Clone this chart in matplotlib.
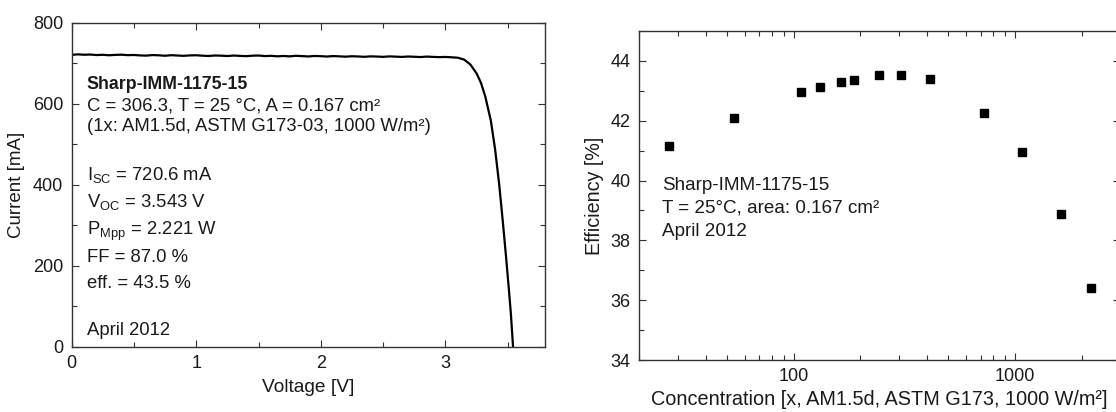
import matplotlib
matplotlib.use("Agg")
import matplotlib.pyplot as plt
from matplotlib.ticker import MultipleLocator, FixedLocator, NullFormatter, FixedFormatter

plt.rcParams['font.family'] = ['Liberation Sans', 'DejaVu Sans']
plt.rcParams['mathtext.fontset'] = 'custom'
plt.rcParams['mathtext.rm'] = 'Liberation Sans'
plt.rcParams['mathtext.it'] = 'Liberation Sans'

# -------- DATA --------
# I-V curve (left panel)
voltage = [0.00, 0.05, 0.10, 0.15, 0.20, 0.25, 0.30, 0.35, 0.40, 0.45,
           0.50, 0.55, 0.60, 0.65, 0.70, 0.75, 0.80, 0.85, 0.90, 0.95,
           1.00, 1.05, 1.10, 1.15, 1.20, 1.25, 1.30, 1.35, 1.40, 1.45,
           1.50, 1.55, 1.60, 1.65, 1.70, 1.75, 1.80, 1.85, 1.90, 1.95,
           2.00, 2.05, 2.10, 2.15, 2.20, 2.25, 2.30, 2.35, 2.40, 2.45,
           2.50, 2.55, 2.60, 2.65, 2.70, 2.75, 2.80, 2.85, 2.90, 2.95,
           3.00, 3.05, 3.10, 3.15, 3.20, 3.25, 3.285, 3.32, 3.365, 3.40,
           3.432, 3.46, 3.486, 3.51, 3.526, 3.543]
current = [720.6, 721.8, 720.9, 721.4, 720.1, 720.8, 719.6, 720.5, 721.0, 719.9,
           720.3, 719.2, 718.7, 720.1, 719.5, 718.4, 719.8, 718.9, 718.2, 719.3,
           719.6, 718.5, 717.9, 719.0, 718.6, 717.7, 718.9, 718.1, 717.4, 718.5,
           719.0, 717.6, 718.2, 717.0, 717.8, 716.9, 718.3, 717.5, 716.7, 717.9,
           717.3, 716.5, 717.6, 716.9, 716.1, 717.2, 716.6, 715.8, 716.9, 716.4,
           715.7, 716.8, 716.2, 715.5, 716.5, 715.9, 715.2, 716.3, 715.6, 715.0,
           715.4, 714.6, 713.5, 709.0, 697.0, 675.0, 652.0, 618.0, 558.0, 485.0,
           400.0, 312.0, 225.0, 140.0, 80.0, 0.0]

# efficiency vs concentration (right panel)
concentration = [27.4, 53.5, 108, 132, 163, 188, 244, 306, 413, 724, 1072, 1617, 2208]
efficiency = [41.14, 42.10, 42.97, 43.12, 43.30, 43.36, 43.52, 43.52, 43.41,
              42.25, 40.96, 38.88, 36.40]

iv_lines = [
    r"C = 306.3, T = 25 °C, A = 0.167 cm²",
    r"(1x: AM1.5d, ASTM G173-03, 1000 W/m²)",
    r"I$_{\rm SC}$ = 720.6 mA",
    r"V$_{\rm OC}$ = 3.543 V",
    r"P$_{\rm Mpp}$ = 2.221 W",
    "FF = 87.0 %",
    "eff. = 43.5 %",
    "April 2012",
]
eff_lines = ["Sharp-IMM-1175-15", "T = 25°C, area: 0.167 cm²", "April 2012"]
# ----------------------

TXT = '#1a1a1a'
SPINE = '#333333'

fig = plt.figure(figsize=(11.16, 4.12), dpi=100)

# left panel: I-V curve
ax1 = fig.add_axes([0.0642, 0.1585, 0.4242, 0.7864])
ax1.plot(voltage, current, color='black', lw=1.6)
ax1.set_xlim(0, 3.8)
ax1.set_ylim(0, 800)
ax1.xaxis.set_major_locator(MultipleLocator(1))
ax1.xaxis.set_minor_locator(MultipleLocator(0.5))
ax1.yaxis.set_major_locator(MultipleLocator(200))
ax1.yaxis.set_minor_locator(MultipleLocator(100))
ax1.set_xlabel("Voltage [V]", fontsize=13.8, color=TXT, labelpad=5)
ax1.set_ylabel("Current [mA]", fontsize=13.5, color=TXT, labelpad=6)

ax1.text(0.032, 0.7943, "Sharp-IMM-1175-15", transform=ax1.transAxes,
         fontsize=12.8, fontweight='bold', color=TXT, va='baseline')
iv_y = [0.7283, 0.6672, 0.5144, 0.4320, 0.3447, 0.2623, 0.1820, 0.0360]
for s, y in zip(iv_lines, iv_y):
    ax1.text(0.032, y, s, transform=ax1.transAxes, fontsize=13.3,
             color=TXT, va='baseline')

# right panel: efficiency vs concentration
ax2 = fig.add_axes([0.5726, 0.1262, 0.4314, 0.7985])
ax2.plot(concentration, efficiency, ls='none', marker='s', ms=5.2,
         color='black', mec='black')
ax2.set_xscale('log')
ax2.set_xlim(20, 3000)
ax2.set_ylim(34, 45)
ax2.xaxis.set_major_locator(FixedLocator([100, 1000]))
ax2.xaxis.set_major_formatter(FixedFormatter(["100", "1000"]))
ax2.xaxis.set_minor_locator(FixedLocator(
    [20, 30, 40, 50, 60, 70, 80, 90, 200, 300, 400, 500, 600, 700, 800, 900, 2000, 3000]))
ax2.xaxis.set_minor_formatter(NullFormatter())
ax2.yaxis.set_major_locator(MultipleLocator(2))
ax2.yaxis.set_minor_locator(MultipleLocator(1))
ax2.set_xlabel("Concentration [x, AM1.5d, ASTM G173, 1000 W/m²]",
               fontsize=14.3, color=TXT, labelpad=3)
ax2.set_ylabel("Efficiency [%]", fontsize=14.2, color=TXT, labelpad=5)

eff_y = [0.518, 0.449, 0.377]
for s, y in zip(eff_lines, eff_y):
    ax2.text(0.048, y, s, transform=ax2.transAxes, fontsize=13.6,
             color=TXT, va='baseline')

for ax in (ax1, ax2):
    for sp in ax.spines.values():
        sp.set_color(SPINE)
        sp.set_linewidth(1.0)
    ax.tick_params(which='both', direction='in', top=True, right=True,
                   colors=SPINE, labelcolor=TXT, labelsize=13, width=0.8)
    ax.tick_params(which='major', length=5, pad=6)
    ax.tick_params(which='minor', length=3.5)

ax2.tick_params(which='minor', right=False)

fig.savefig("out.png", dpi=100)
